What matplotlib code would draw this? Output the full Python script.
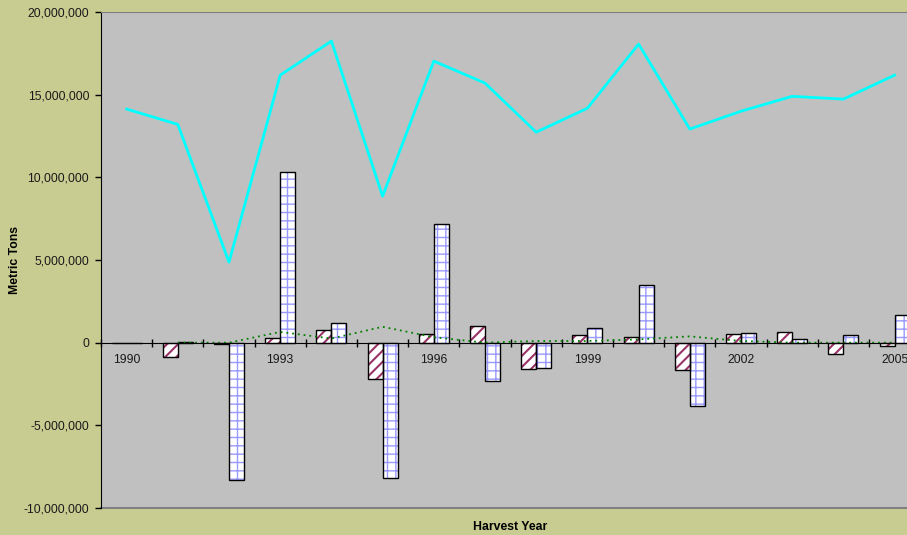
import matplotlib
matplotlib.use("Agg")
import matplotlib.pyplot as plt
import numpy as np
from matplotlib.ticker import FuncFormatter

plt.rcParams['font.family'] = ['Liberation Sans', 'DejaVu Sans']

years = list(range(1990, 2006))
year_labels = [str(y) if (y - 1990) % 3 == 0 else '' for y in years]

# cyan line (total harvest)
harvest = [14130000, 13200000, 4870000, 16180000, 18240000, 8860000, 17030000, 15700000,
           12730000, 14180000, 18060000, 12920000, 14000000, 14900000, 14730000, 16180000]

# maroon diagonal-hatched bars
change_a = [0, -860000, -100000, 300000, 740000, -2200000, 530000, 980000,
            -1580000, 470000, 330000, -1640000, 530000, 630000, -680000, -230000]

# white/blue grid bars
change_b = [0, 50000, -8300000, 10300000, 1180000, -8200000, 7200000, -2300000,
            -1520000, 860000, 3480000, -3840000, 570000, 250000, 450000, 1680000]

# green dotted line
dotted = [np.nan, 0, 0, 650000, 250000, 960000, 330000, 0,
          100000, 100000, 200000, 380000, 100000, 0, 0, 0]

bg = '#C8CC90'
fig = plt.figure(figsize=(9.07, 5.35), dpi=100, facecolor=bg)
ax = fig.add_axes([101 / 907, 27 / 535, 819.2 / 907, 496 / 535])
ax.set_facecolor('#C0C0C0')

x = np.arange(len(years))
w = 0.293

plt.rcParams['hatch.linewidth'] = 1.5
bars_a = ax.bar(x - w / 2, change_a, w, color='white', edgecolor='#993366',
                hatch='///', linewidth=0, zorder=2)
for b in bars_a:
    if hasattr(b, 'set_hatch_linewidth'):
        b.set_hatch_linewidth(1.5)
plt.rcParams['hatch.linewidth'] = 1.0
bars_b = ax.bar(x + w / 2, change_b, w, color='white', edgecolor='#9999FF',
                hatch='++', linewidth=0, zorder=2)
for b in bars_b:
    if hasattr(b, 'set_hatch_linewidth'):
        b.set_hatch_linewidth(1.0)
ax.bar(x - w / 2, change_a, w, fill=False, edgecolor='black', linewidth=1, zorder=3)
ax.bar(x + w / 2, change_b, w, fill=False, edgecolor='black', linewidth=1, zorder=3)

ax.plot(x, harvest, color='#00FFFF', linewidth=2, zorder=4)
ax.plot(x, dotted, color='#008000', linewidth=1.3, linestyle=(0, (1, 2.2)), zorder=4)

ax.set_xlim(-0.5, len(years) - 0.5)
ax.set_ylim(-10000000, 20000000)
ax.set_yticks(np.arange(-10000000, 20000001, 5000000))
ax.yaxis.set_major_formatter(FuncFormatter(lambda v, p: f'{int(v):,}'))
ax.tick_params(axis='y', direction='out', length=4, width=1, pad=4.5,
               labelsize=8.8, colors='black', labelcolor='#1a1a1a')

# category boundaries as major ticks, labels on minor ticks at centres
ax.set_xticks(np.arange(-0.5, len(years), 1.0))
ax.set_xticklabels([])
ax.set_xticks(x, minor=True)
ax.set_xticklabels(year_labels, minor=True)
ax.tick_params(axis='x', which='major', direction='inout', length=6, width=1, color='black')
ax.tick_params(axis='x', which='minor', length=0, pad=8, labelsize=8.8, labelcolor='#1a1a1a')

ax.spines['bottom'].set_position(('data', 0))
ax.spines['bottom'].set_color('black')
ax.spines['bottom'].set_zorder(5)
ax.spines['left'].set_color('black')
ax.spines['top'].set_color('#808080')
ax.spines['right'].set_visible(False)
ax.axhline(-10000000, color='#808080', linewidth=1.5, zorder=1, clip_on=False)

fig.text(15 / 907, 1 - 260 / 535, 'Metric Tons', rotation=90, ha='center', va='center',
         fontsize=8.8, fontweight='bold')
fig.text(510 / 907, 1 - 527 / 535, 'Harvest Year', ha='center', va='center',
         fontsize=8.8, fontweight='bold')

fig.savefig('out.png', dpi=100, facecolor=bg)
